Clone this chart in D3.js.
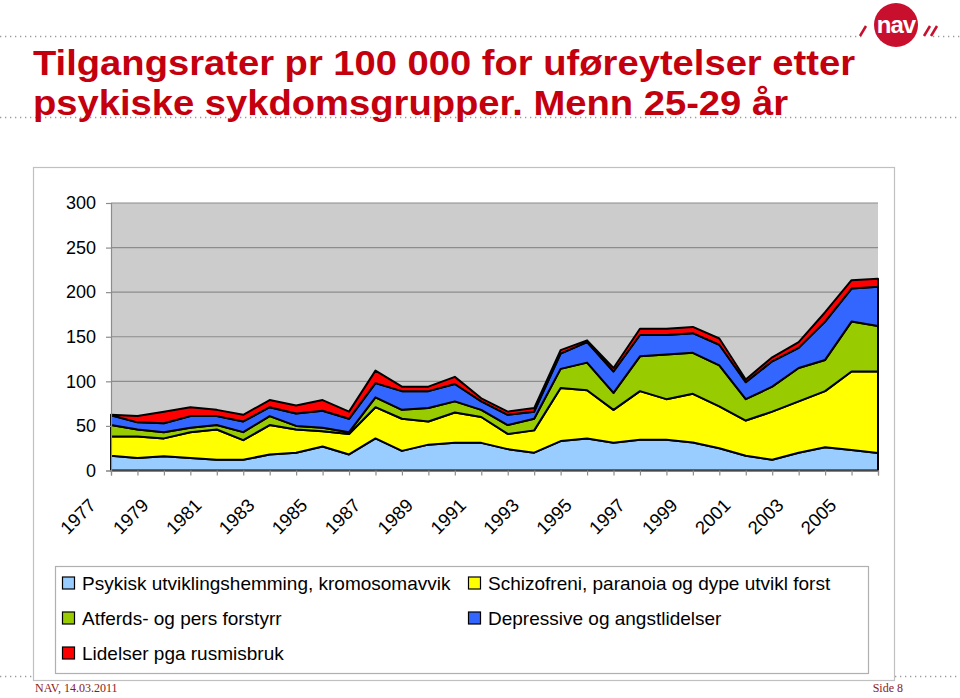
<!DOCTYPE html>
<html>
<head>
<meta charset="utf-8">
<script src="https://cdn.jsdelivr.net/npm/d3@7"></script>
<style>
  html, body { margin: 0; padding: 0; background: #fff; }
  svg { display: block; }
</style>
</head>
<body>
<svg id="chart" width="960" height="698"></svg>
<script>
const years = d3.range(1977, 2007);
const tickYears = [1977,1979,1981,1983,1985,1987,1989,1991,1993,1995,1997,1999,2001,2003,2005];
const yTicks = [0, 50, 100, 150, 200, 250, 300];

const seriesNames = [
  "Psykisk utviklingshemming, kromosomavvik",
  "Schizofreni, paranoia og dype utvikl forst",
  "Atferds- og pers forstyrr",
  "Depressive og angstlidelser",
  "Lidelser pga rusmisbruk"
];
const seriesColors = ["#99CCFF", "#FFFF00", "#99CC00", "#3366FF", "#FF0000"];

const psykisk     = [16.5,14,16,14,12,12,18,20,27,18,36,22,29,31,31,24,20,33,36,31,34.5,34.5,31.5,25,16.5,12,20,26,23,19.5];
const schizofreni = [21.5,24,20,29,34,22,33,26,17,23,35,36,26,34,29,17,25,59.5,54,37,54.5,45.5,54.5,47,39.5,54,57.5,63,88,91.5];
const atferd      = [13,8,7,5,5,9,10,4,4,2,11,10,15,12.5,8,10,13,21.5,31,19,39,50,46,46,24,28,37.5,35,56,51];
const depressive  = [11,8,10,13,10,12,10,14,19,15,16,21,19,19.5,9.5,11.5,8,17,23,24,24,22,22,23,19,28.5,22.5,43,37,44];
const rusmisbruk  = [0.5,7,13,10,7,7.5,8,9,12,8,14,5,5,8,3.5,3.5,4,4,2,4,7,7,7,7,3,4.5,6.5,10.5,9.5,9];

const seriesValues = [psykisk, schizofreni, atferd, depressive, rusmisbruk];

const titleLines = ["Tilgangsrater pr 100 000 for uføreytelser etter", "psykiske sykdomsgrupper. Menn 25-29 år"];
const footerLeft = "NAV, 14.03.2011";
const footerRight = "Side 8";

// ---------- drawing ----------
const svg = d3.select("#chart");
const red = "#C4000E";

function dotted(y, x1, x2) {
  svg.append("line").attr("x1", x1).attr("x2", x2).attr("y1", y).attr("y2", y)
    .attr("stroke", "#9a9a9a").attr("stroke-width", 1.3).attr("stroke-dasharray", "1.3,3.7");
}
dotted(36.5, 0, 862);
dotted(36.5, 933, 960);
dotted(117.5, 0, 960);
dotted(676.5, 0, 960);

// title
titleLines.forEach((t, i) => {
  svg.append("text")
    .attr("x", 33).attr("y", i === 0 ? 74.5 : 114.5)
    .attr("font-family", "Liberation Sans, Arial, sans-serif")
    .attr("font-weight", "bold")
    .attr("font-size", 35.5)
    .attr("fill", red)
    .attr("textLength", i === 0 ? 822 : 755)
    .attr("lengthAdjust", "spacingAndGlyphs")
    .text(t);
});

// logo
const logo = svg.append("g");
logo.append("circle").attr("cx", 896).attr("cy", 25).attr("r", 22).attr("fill", "#C8102E");
logo.append("text").attr("x", 896).attr("y", 33).attr("text-anchor", "middle")
  .attr("font-family", "Liberation Sans, Arial, sans-serif").attr("font-weight", "bold")
  .attr("font-size", 24).attr("fill", "#fff").attr("letter-spacing", -1).text("nav");
[[860, 36, 866, 26], [924, 36, 930, 26], [931, 36, 937, 26]].forEach(s => {
  logo.append("line").attr("x1", s[0]).attr("y1", s[1]).attr("x2", s[2]).attr("y2", s[3])
    .attr("stroke", "#C8102E").attr("stroke-width", 2.5);
});

// chart box
svg.append("rect").attr("x", 33.5).attr("y", 167.5).attr("width", 861).attr("height", 513)
  .attr("fill", "#fff").attr("stroke", "#c0c0c0").attr("stroke-width", 1.2);

// scales
const x = d3.scalePoint().domain(years).range([111, 878]).padding(0);
const y = d3.scaleLinear().domain([0, 300]).range([470.5, 203]);

// plot background
svg.append("rect").attr("x", 111).attr("y", y(300)).attr("width", 878 - 111).attr("height", y(0) - y(300))
  .attr("fill", "#CCCCCC");

// gridlines
svg.append("g").selectAll("line").data(yTicks.filter(d => d > 0)).join("line")
  .attr("x1", 111).attr("x2", 878).attr("y1", d => y(d)).attr("y2", d => y(d))
  .attr("stroke", "#8c8c8c").attr("stroke-width", 1.2);

// stacked data
const table = years.map((yr, i) => {
  const row = { year: yr };
  seriesNames.forEach((n, k) => row[n] = seriesValues[k][i]);
  return row;
});
const stack = d3.stack().keys(seriesNames).order(d3.stackOrderNone).offset(d3.stackOffsetNone);
const stacked = stack(table);

const area = d3.area()
  .x(d => x(d.data.year))
  .y0(d => y(d[0]))
  .y1(d => y(d[1]));

svg.append("g").selectAll("path").data(stacked).join("path")
  .attr("d", area)
  .attr("fill", (d, i) => seriesColors[i])
  .attr("stroke", "#000")
  .attr("stroke-width", 2)
  .attr("stroke-linejoin", "round");

// y axis
const yAxis = d3.axisLeft(y).tickValues(yTicks).tickSize(5).tickPadding(10).tickFormat(d3.format("d"));
const gy = svg.append("g").attr("transform", "translate(111,0)").call(yAxis);
gy.select(".domain").attr("stroke", "#8c8c8c").attr("stroke-width", 1.2);
gy.selectAll(".tick line").attr("stroke", "#8c8c8c").attr("stroke-width", 1.2);
gy.selectAll(".tick text").attr("font-family", "Liberation Sans, Arial, sans-serif")
  .attr("font-size", 18).attr("fill", "#000");

// x axis
const xAxis = d3.axisBottom(x).tickValues(years).tickSize(5).tickFormat("");
const gx = svg.append("g").attr("transform", `translate(0,${y(0)})`).call(xAxis);
gx.select(".domain").attr("stroke", "#8c8c8c").attr("stroke-width", 1.2);
gx.selectAll(".tick line").attr("stroke", "#8c8c8c").attr("stroke-width", 1.2);

svg.append("g").selectAll("text").data(tickYears).join("text")
  .attr("transform", d => `translate(${x(d) - 14},${y(0) + 36}) rotate(-45)`)
  .attr("text-anchor", "end")
  .attr("font-family", "Liberation Sans, Arial, sans-serif")
  .attr("font-size", 18.5)
  .attr("fill", "#000")
  .text(d => d);

// legend
svg.append("rect").attr("x", 55.5).attr("y", 566.5).attr("width", 813).attr("height", 107)
  .attr("fill", "#fff").attr("stroke", "#b0b0b0").attr("stroke-width", 1.2);

const legendPos = [
  { x: 62, y: 583 }, { x: 468, y: 583 },
  { x: 62, y: 618 }, { x: 468, y: 618 },
  { x: 62, y: 653 }
];
const lg = svg.append("g").selectAll("g").data(seriesNames).join("g")
  .attr("transform", (d, i) => `translate(${legendPos[i].x},${legendPos[i].y})`);
lg.append("rect").attr("x", 0.5).attr("y", -6).attr("width", 12).attr("height", 12)
  .attr("fill", (d, i) => seriesColors[i]).attr("stroke", "#000").attr("stroke-width", 1.2);
lg.append("text").attr("x", 20).attr("y", 7)
  .attr("font-family", "Liberation Sans, Arial, sans-serif")
  .attr("font-size", 19).attr("fill", "#000")
  .text(d => d);

// footer
svg.append("text").attr("x", 35).attr("y", 692)
  .attr("font-family", "Liberation Serif, Times New Roman, serif").attr("font-size", 12)
  .attr("fill", "#8B1A1A").text(footerLeft);
svg.append("text").attr("x", 903).attr("y", 692).attr("text-anchor", "end")
  .attr("font-family", "Liberation Serif, Times New Roman, serif").attr("font-size", 12)
  .attr("fill", "#8B1A1A").text(footerRight);
</script>
</body>
</html>
